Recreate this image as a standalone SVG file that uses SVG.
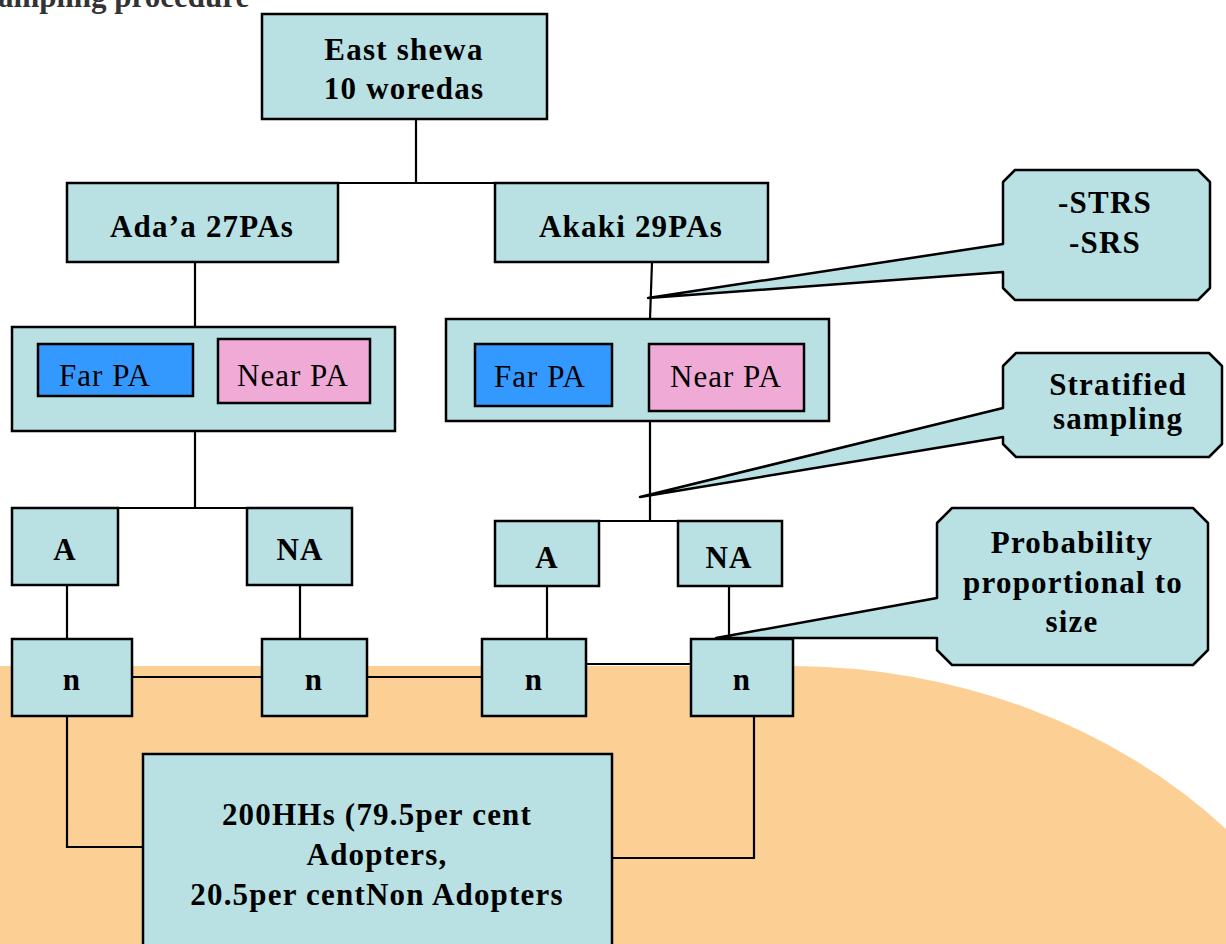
<svg xmlns="http://www.w3.org/2000/svg" width="1226" height="944" viewBox="0 0 1226 944">
<style>
.box{fill:#B9E0E3;stroke:#000;stroke-width:2.5}
.far{fill:#3399FF;stroke:#000;stroke-width:2.5}
.near{fill:#F0AAD6;stroke:#000;stroke-width:2.5}
.call{fill:#B9E0E3;stroke:#000;stroke-width:2.5;stroke-linejoin:round}
.b{font-family:"Liberation Serif","Times New Roman",serif;font-weight:bold;font-size:31px;letter-spacing:1.2px;text-anchor:middle;fill:#000}
.r{font-family:"Liberation Serif","Times New Roman",serif;font-size:31px;letter-spacing:1px;text-anchor:middle;fill:#000}
.con{fill:none;stroke:#000;stroke-width:2.2}
</style>
<rect width="1226" height="944" fill="#FFFFFF"/>
<path d="M0,666 H790 A590,500 0 0 1 1226,829 V944 H0 Z" fill="#FCD095"/>
<text x="-2" y="7" font-family="Liberation Serif, serif" font-weight="bold" font-size="31" fill="#333333">ampling procedure</text>

<g id="connectors" class="con">
<path d="M416,119 V183"/>
<path d="M338,183 H495"/>
<path d="M195,262 V327"/>
<path d="M652,262 L650,319"/>
<path d="M195,431 V508"/>
<path d="M118,508 H247"/>
<path d="M650,421 V521"/>
<path d="M599,521 H678"/>
<path d="M67,585 V639"/>
<path d="M300,585 V639"/>
<path d="M547,586 V639"/>
<path d="M729,586 V639"/>
<path d="M132,677 H262"/>
<path d="M367,677 H482"/>
<path d="M586,664 H691"/>
<path d="M67,716 V847 H143"/>
<path d="M754,716 V858 H612"/>
</g>

<g id="east-shewa">
<rect class="box" x="262" y="14" width="285" height="105"/>
<text class="b" x="404" y="60">East shewa</text>
<text class="b" x="404" y="99">10 woredas</text>
</g>
<g id="adaa">
<rect class="box" x="67" y="183" width="271" height="79"/>
<text class="b" x="202" y="237">Ada’a 27PAs</text>
</g>
<g id="akaki">
<rect class="box" x="495" y="183" width="273" height="79"/>
<text class="b" x="631" y="237">Akaki 29PAs</text>
</g>
<g id="left-pa">
<rect class="box" x="12" y="327" width="383" height="104"/>
<rect class="far" x="38" y="344" width="155" height="52"/>
<text class="r" x="105" y="386">Far PA</text>
<rect class="near" x="218" y="339" width="152" height="64"/>
<text class="r" x="293" y="386">Near PA</text>
</g>
<g id="right-pa">
<rect class="box" x="446" y="319" width="383" height="102"/>
<rect class="far" x="475" y="344" width="137" height="62"/>
<text class="r" x="540" y="387">Far PA</text>
<rect class="near" x="649" y="344" width="155" height="67"/>
<text class="r" x="726" y="387">Near PA</text>
</g>
<g id="left-a">
<rect class="box" x="12" y="508" width="106" height="77"/>
<text class="b" x="65" y="560">A</text>
</g>
<g id="left-na">
<rect class="box" x="247" y="508" width="105" height="77"/>
<text class="b" x="300" y="560">NA</text>
</g>
<g id="right-a">
<rect class="box" x="495" y="521" width="104" height="65"/>
<text class="b" x="547" y="568">A</text>
</g>
<g id="right-na">
<rect class="box" x="678" y="521" width="104" height="65"/>
<text class="b" x="729" y="568">NA</text>
</g>
<g id="n1">
<rect class="box" x="12" y="639" width="120" height="77"/>
<text class="b" x="72" y="690">n</text>
</g>
<g id="n2">
<rect class="box" x="262" y="639" width="105" height="77"/>
<text class="b" x="314" y="690">n</text>
</g>
<g id="n3">
<rect class="box" x="482" y="639" width="104" height="77"/>
<text class="b" x="534" y="690">n</text>
</g>
<g id="n4">
<rect class="box" x="691" y="639" width="102" height="77"/>
<text class="b" x="742" y="690">n</text>
</g>
<g id="total">
<rect class="box" x="143" y="754" width="469" height="200"/>
<text class="b" x="377" y="825">200HHs (79.5per cent</text>
<text class="b" x="377" y="865">Adopters,</text>
<text class="b" x="377" y="905">20.5per centNon Adopters</text>
</g>
<g id="callout-strs">
<path class="call" d="M1015,170 H1198 L1210,182 V288 L1198,300 H1015 L1003,288 V272 L648,298 L1003,244 V182 Z"/>
<text class="b" x="1105" y="213">-STRS</text>
<text class="b" x="1105" y="253">-SRS</text>
</g>
<g id="callout-stratified">
<path class="call" d="M1016,353 H1209 L1222,366 V444 L1209,457 H1016 L1003,444 V437 L640,497 L1003,408 V366 Z"/>
<text class="b" x="1118" y="395">Stratified</text>
<text class="b" x="1118" y="429">sampling</text>
</g>
<g id="callout-pps">
<path class="call" d="M952,508 H1193 L1208,523 V650 L1193,665 H952 L937,650 V638 L716,638 L937,598 V523 Z"/>
<text class="b" x="1072" y="553">Probability</text>
<text class="b" x="1073" y="593">proportional to</text>
<text class="b" x="1072" y="632">size</text>
</g>
</svg>
